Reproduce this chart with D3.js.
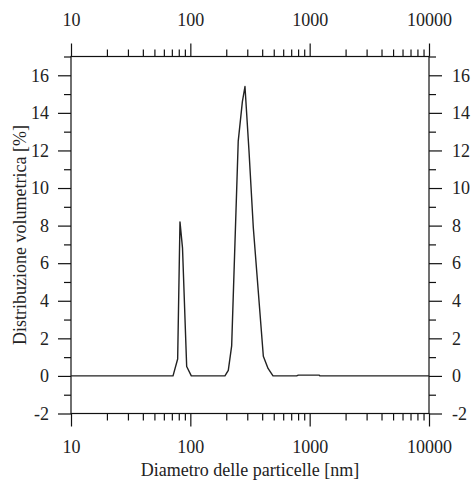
<!DOCTYPE html>
<html>
<head>
<meta charset="utf-8">
<script src="https://cdn.jsdelivr.net/npm/d3@7"></script>
<style>
  body { margin: 0; background: #fff; }
</style>
</head>
<body>
<div id="chart"></div>
<script>
// Dati
const diametri = [10, 71.6, 78.3, 81.9, 86.0, 93.2, 101.9, 195, 208, 222, 252, 273, 287, 310, 337, 409, 448, 493, 778, 803, 1204, 1221, 10000];
const volumi   = [0, 0, 0.9, 8.2, 6.8, 0.5, 0, 0, 0.3, 1.6, 12.5, 14.6, 15.4, 12.0, 7.9, 1.05, 0.4, 0, 0, 0.04, 0.04, 0, 0];

const xMajor = [10, 100, 1000, 10000];
const xMinor = [20, 30, 40, 50, 60, 70, 80, 90, 200, 300, 400, 500, 600, 700, 800, 900, 2000, 3000, 4000, 5000, 6000, 7000, 8000, 9000];
const yMajor = [-2, 0, 2, 4, 6, 8, 10, 12, 14, 16];
const yMinor = [-1, 1, 3, 5, 7, 9, 11, 13, 15, 17];

const W = 475, H = 480;
const mLeft = 71, mRight = 429, mTop = 56.5, mBottom = 413.5;
const serif = '"Liberation Serif", "Times New Roman", serif';
const fontSize = 18;

const svg = d3.select("#chart")
  .append("svg")
    .attr("width", W)
    .attr("height", H);

const x = d3.scaleLog().domain([10, 10000]).range([mLeft, mRight]);
const y = d3.scaleLinear().domain([-2, 17]).range([mBottom, mTop]);

// assi: tacche maggiori con etichette, minori senza
const drawAxis = (axisFn, scale, major, minor, pos, pad) => {
  const gMaj = svg.append("g")
    .attr("transform", pos)
    .call(axisFn(scale).tickValues(major).tickSize(13).tickSizeOuter(0)
      .tickPadding(pad).tickFormat(d => String(d)));
  const gMin = svg.append("g")
    .attr("transform", pos)
    .call(axisFn(scale).tickValues(minor).tickSize(7).tickSizeOuter(0).tickFormat(""));
  [gMaj, gMin].forEach(g => {
    g.select(".domain").remove();
    g.selectAll("line").attr("stroke", "#111").attr("stroke-width", 1.2);
    g.selectAll("text")
      .attr("font-family", serif)
      .attr("font-size", fontSize)
      .attr("fill", "#222");
  });
};

drawAxis(d3.axisBottom, x, xMajor, xMinor, `translate(0,${mBottom})`, 14);
drawAxis(d3.axisTop, x, xMajor, xMinor, `translate(0,${mTop})`, 18);
drawAxis(d3.axisLeft, y, yMajor, yMinor, `translate(${mLeft},0)`, 9);
drawAxis(d3.axisRight, y, yMajor, yMinor, `translate(${mRight},0)`, 10);

// cornice
svg.append("rect")
  .attr("x", mLeft).attr("y", mTop)
  .attr("width", mRight - mLeft).attr("height", mBottom - mTop)
  .attr("fill", "none")
  .attr("stroke", "#111")
  .attr("stroke-width", 1.2);

// curva
const punti = diametri.map((d, i) => [d, volumi[i]]);
const line = d3.line().x(d => x(d[0])).y(d => y(d[1]));
svg.append("path")
  .datum(punti)
  .attr("d", line)
  .attr("fill", "none")
  .attr("stroke", "#222")
  .attr("stroke-width", 1.4)
  .attr("stroke-linejoin", "round");

// titoli
svg.append("text")
  .attr("x", (mLeft + mRight) / 2)
  .attr("y", 476)
  .attr("text-anchor", "middle")
  .attr("font-family", serif)
  .attr("font-size", fontSize)
  .attr("fill", "#222")
  .text("Diametro delle particelle [nm]");

svg.append("text")
  .attr("transform", `translate(26,${(mTop + mBottom) / 2}) rotate(-90)`)
  .attr("text-anchor", "middle")
  .attr("font-family", serif)
  .attr("font-size", fontSize)
  .attr("fill", "#222")
  .text("Distribuzione volumetrica [%]");
</script>
</body>
</html>
